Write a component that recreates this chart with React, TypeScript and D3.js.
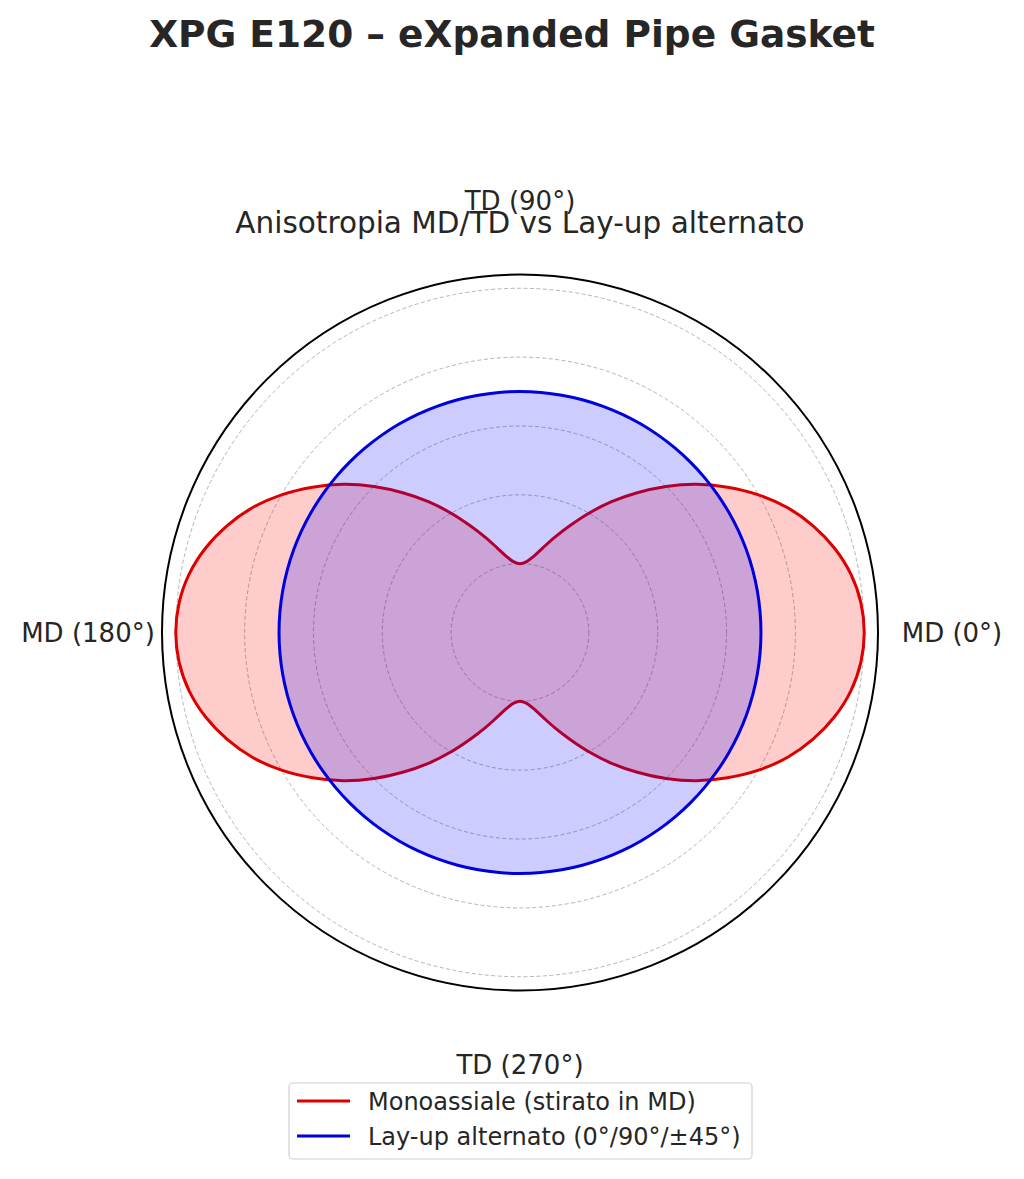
import React from "react";
import * as d3 from "d3";

const TITLE = "XPG E120 – eXpanded Pipe Gasket";
const SUBTITLE = "Anisotropia MD/TD vs Lay-up alternato";

const ANGLES_DEG = [
  0, 5, 10, 15, 20, 25, 30, 35, 40, 45, 50, 55, 60, 65, 70, 75, 80, 85,
  90, 95, 100, 105, 110, 115, 120, 125, 130, 135, 140, 145, 150, 155, 160, 165, 170, 175,
  180, 185, 190, 195, 200, 205, 210, 215, 220, 225, 230, 235, 240, 245, 250, 255, 260, 265,
  270, 275, 280, 285, 290, 295, 300, 305, 310, 315, 320, 325, 330, 335, 340, 345, 350, 355,
];
const MONO_R = [
  5.0, 4.97, 4.88, 4.73, 4.53, 4.29, 4.0, 3.68, 3.35, 3.0, 2.65, 2.32, 2.0, 1.71, 1.47, 1.27, 1.12, 1.03,
  1.0, 1.03, 1.12, 1.27, 1.47, 1.71, 2.0, 2.32, 2.65, 3.0, 3.35, 3.68, 4.0, 4.29, 4.53, 4.73, 4.88, 4.97,
  5.0, 4.97, 4.88, 4.73, 4.53, 4.29, 4.0, 3.68, 3.35, 3.0, 2.65, 2.32, 2.0, 1.71, 1.47, 1.27, 1.12, 1.03,
  1.0, 1.03, 1.12, 1.27, 1.47, 1.71, 2.0, 2.32, 2.65, 3.0, 3.35, 3.68, 4.0, 4.29, 4.53, 4.73, 4.88, 4.97,
];
const LAYUP_R = [
  3.5, 3.5, 3.5, 3.5, 3.5, 3.5, 3.5, 3.5, 3.5, 3.5, 3.5, 3.5, 3.5, 3.5, 3.5, 3.5, 3.5, 3.5,
  3.5, 3.5, 3.5, 3.5, 3.5, 3.5, 3.5, 3.5, 3.5, 3.5, 3.5, 3.5, 3.5, 3.5, 3.5, 3.5, 3.5, 3.5,
  3.5, 3.5, 3.5, 3.5, 3.5, 3.5, 3.5, 3.5, 3.5, 3.5, 3.5, 3.5, 3.5, 3.5, 3.5, 3.5, 3.5, 3.5,
  3.5, 3.5, 3.5, 3.5, 3.5, 3.5, 3.5, 3.5, 3.5, 3.5, 3.5, 3.5, 3.5, 3.5, 3.5, 3.5, 3.5, 3.5,
];
const SERIES_NAMES = ["Monoassiale (stirato in MD)", "Lay-up alternato (0°/90°/±45°)"];
const SERIES_COLORS = ["#dd0000", "#0000dd"];
const SERIES_FILLS = ["#ff0000", "#0000ff"];
const RING_TICKS = [1, 2, 3, 4, 5];
const R_MAX = 5.2;
const THETA_TICKS = [0, 90, 180, 270];
const THETA_LABELS = ["MD (0°)", "TD (90°)", "MD (180°)", "TD (270°)"];

const W = 1024;
const H = 1179;
const CX = 520;
const CY = 632.5;
const R_OUT = 358;
const LABEL_R = 432;
const FONT = "'DejaVu Sans', sans-serif";
const TEXT = "#262626";

export default function App() {
  const r = d3.scaleLinear().domain([0, R_MAX]).range([0, R_OUT]);
  const toRad = (deg: number) => Math.PI / 2 - (deg * Math.PI) / 180;

  const line = d3
    .lineRadial<number[]>()
    .angle((d) => toRad(d[0]))
    .radius((d) => r(d[1]))
    .curve(d3.curveCatmullRomClosed);

  const monoPts = ANGLES_DEG.map((a, i) => [a, MONO_R[i]]);
  const layPts = ANGLES_DEG.map((a, i) => [a, LAYUP_R[i]]);
  const series = [monoPts, layPts];

  const legendX = 289;
  const legendY = 1083;
  const legendW = 463;
  const legendH = 76;

  return (
    <svg width={W} height={H} style={{ position: "absolute", left: 0, top: 0, background: "#fff" }}
      fontFamily={FONT}>
      <rect x={0} y={0} width={W} height={H} fill="#fff" />
      <text x={512} y={47} textAnchor="middle" fontSize={37.5} fontWeight="bold" fill={TEXT}>{TITLE}</text>

      <g transform={`translate(${CX},${CY})`}>
        {RING_TICKS.map((t) => (
          <circle key={t} r={r(t)} fill="none" stroke="#b4b4b4" strokeWidth={1} strokeDasharray="4,2.5" />
        ))}
        {series.map((pts, i) => (
          <g key={i}>
            <path d={line(pts) || ""} fill={SERIES_FILLS[i]} fillOpacity={0.2} stroke="none" />
            <path d={line(pts) || ""} fill="none" stroke={SERIES_COLORS[i]} strokeWidth={3} />
          </g>
        ))}
        <circle r={R_OUT} fill="none" stroke="#000" strokeWidth={2} />
        {THETA_TICKS.map((deg, i) => {
          const a = (deg * Math.PI) / 180;
          return (
            <text key={deg} x={LABEL_R * Math.cos(a)} y={-LABEL_R * Math.sin(a)} textAnchor="middle"
              dominantBaseline="central" fontSize={26} fill={TEXT}>{THETA_LABELS[i]}</text>
          );
        })}
      </g>

      <text x={520} y={233} textAnchor="middle" fontSize={29.5} fill={TEXT}>{SUBTITLE}</text>

      <rect x={legendX} y={legendY} width={legendW} height={legendH} rx={4} fill="#fff" fillOpacity={0.8}
        stroke="#d0d0d0" strokeWidth={1.2} />
      {SERIES_NAMES.map((name, i) => (
        <g key={name}>
          <line x1={297} x2={350} y1={1101 + i * 35} y2={1101 + i * 35} stroke={SERIES_COLORS[i]} strokeWidth={3} />
          <text x={368} y={1110 + i * 35} fontSize={24} fill={TEXT}>{name}</text>
        </g>
      ))}
    </svg>
  );
}
